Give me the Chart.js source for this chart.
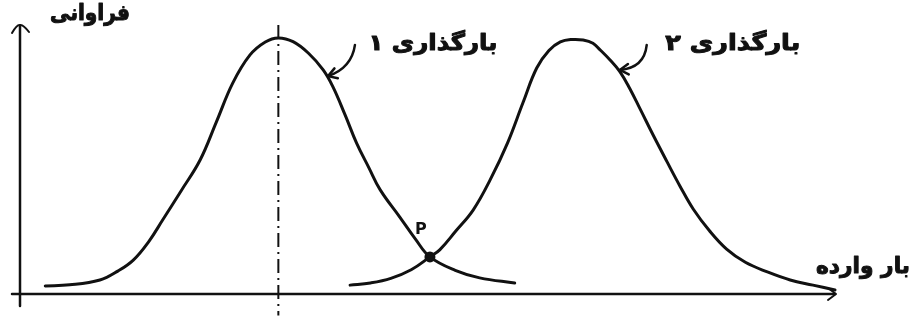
<!DOCTYPE html>
<html>
<head>
<meta charset="utf-8">
<script src="https://cdn.jsdelivr.net/npm/chart.js@4.4.1/dist/chart.umd.min.js"></script>
<style>
  html, body { margin: 0; padding: 0; background: #fff; }
  canvas { display: block; }
</style>
</head>
<body>
<canvas id="loadChart" width="911" height="320"></canvas>
<script>
// curve 1 (بارگذاری ۱)
const load1 = [3.1, 6.1, 9.8, 12.0, 13.9, 15.8, 17.5, 19.8, 22.1, 24.1, 26.1, 28.2, 30.1, 31.7, 33.5, 35.4, 37.2, 38.4, 39.9, 41.3, 42.8, 44.2, 46.6, 48.5, 50.3, 53.4, 56.4, 60.7];
const freq1 = [0.030, 0.034, 0.052, 0.085, 0.126, 0.195, 0.275, 0.385, 0.498, 0.640, 0.784, 0.888, 0.937, 0.952, 0.938, 0.895, 0.833, 0.770, 0.665, 0.561, 0.470, 0.387, 0.286, 0.205, 0.138, 0.088, 0.060, 0.041];

// curve 2 (بارگذاری ۲)
const load2 = [40.5, 43.0, 45.5, 48.0, 50.3, 51.5, 53.5, 55.6, 57.7, 59.8, 61.7, 63.4, 64.9, 66.3, 67.7, 69.1, 70.3, 71.2, 72.4, 73.6, 74.8, 76.1, 77.7, 79.4, 81.0, 82.6, 84.6, 86.7, 89.0, 91.7, 94.5, 97.3, 100];
const freq2 = [0.033, 0.041, 0.058, 0.090, 0.138, 0.164, 0.235, 0.312, 0.425, 0.560, 0.710, 0.840, 0.905, 0.937, 0.946, 0.944, 0.932, 0.907, 0.870, 0.827, 0.765, 0.687, 0.590, 0.491, 0.400, 0.316, 0.235, 0.167, 0.118, 0.082, 0.052, 0.033, 0.015];

// mean of curve 1 and the crossing point of the two curves
const meanLoad1 = [31.7];
const crossLoad = [50.3];
const crossFreq = [0.138];

const labels = {
    yAxis: 'فراوانی',
    xAxis: 'بار وارده',
    curve1: 'بارگذاری ۱',
    curve2: 'بارگذاری ۲',
    cross: 'P'
};

const toPoints = (xs, ys) => xs.map((x, i) => ({ x: x, y: ys[i] }));

const curveStyle = {
    borderColor: '#111',
    borderWidth: 3,
    pointRadius: 0,
    fill: false,
    borderCapStyle: 'round',
    tension: 0.4,
    clip: false
};

// axes, arrows and texts drawn on top
const sketchPlugin = {
    id: 'sketch',
    afterDatasetsDraw(chart) {
        const ctx = chart.ctx;
        const xs = chart.scales.x;
        const ys = chart.scales.y;
        const area = chart.chartArea;
        const px = v => xs.getPixelForValue(v);
        const py = v => ys.getPixelForValue(v);

        ctx.save();
        ctx.strokeStyle = '#111';
        ctx.fillStyle = '#111';
        ctx.lineCap = 'round';
        ctx.lineJoin = 'round';

        // x axis with arrow
        ctx.lineWidth = 2.5;
        ctx.beginPath();
        ctx.moveTo(area.left - 8, area.bottom);
        ctx.lineTo(area.right, area.bottom);
        ctx.stroke();
        ctx.lineWidth = 2;
        ctx.beginPath();
        ctx.moveTo(area.right - 7, area.bottom - 6);
        ctx.lineTo(area.right + 1, area.bottom);
        ctx.lineTo(area.right - 7, area.bottom + 6);
        ctx.stroke();

        // y axis with arrow
        ctx.lineWidth = 2.5;
        ctx.beginPath();
        ctx.moveTo(area.left, area.bottom + 12);
        ctx.lineTo(area.left, area.top + 1);
        ctx.stroke();
        ctx.lineWidth = 2;
        ctx.beginPath();
        ctx.moveTo(area.left - 8, area.top + 8);
        ctx.quadraticCurveTo(area.left - 3, area.top - 1, area.left, area.top);
        ctx.quadraticCurveTo(area.left + 3, area.top - 1, area.left + 9, area.top + 7);
        ctx.stroke();

        // pointer arrows from the labels to the curves
        const pointer = (sx, sy, cx, cy, tx, ty) => {
            ctx.lineWidth = 2.5;
            ctx.beginPath();
            ctx.moveTo(px(sx), py(sy));
            ctx.quadraticCurveTo(px(cx), py(cy), px(tx), py(ty));
            ctx.stroke();
            const a = Math.atan2(py(ty) - py(cy), px(tx) - px(cx));
            const len = 10;
            ctx.beginPath();
            ctx.moveTo(px(tx) - len * Math.cos(a - 0.55), py(ty) - len * Math.sin(a - 0.55));
            ctx.lineTo(px(tx), py(ty));
            ctx.lineTo(px(tx) - len * Math.cos(a + 0.55), py(ty) - len * Math.sin(a + 0.55));
            ctx.stroke();
        };
        pointer(41.1, 0.926, 40.7, 0.84, 37.8, 0.81);
        pointer(76.9, 0.926, 76.6, 0.84, 73.6, 0.833);

        // texts, stretched to the width they take in the figure
        const fitText = (text, left, cy, width) => {
            const w = ctx.measureText(text).width;
            ctx.save();
            ctx.translate(left, cy);
            ctx.scale(width / w, 1);
            ctx.lineWidth = 1;
            ctx.strokeText(text, 0, 0);
            ctx.fillText(text, 0, 0);
            ctx.restore();
        };
        ctx.font = 'bold 22px "DejaVu Sans"';
        ctx.textBaseline = 'middle';
        ctx.textAlign = 'left';
        fitText(labels.yAxis, 50, 14, 80);
        fitText(labels.curve1, px(50.6) - 64, py(0.93), 129);
        fitText(labels.curve2, px(87.4) - 67, py(0.93), 135);
        fitText(labels.xAxis, 816, 267, 94);
        ctx.font = 'bold 16px "DejaVu Sans"';
        ctx.textAlign = 'center';
        ctx.fillText(labels.cross, px(49.2), py(0.24));
        ctx.restore();
    }
};

new Chart(document.getElementById('loadChart'), {
    type: 'line',
    data: {
        datasets: [
            { label: labels.curve1, data: toPoints(load1, freq1), ...curveStyle },
            { label: labels.curve2, data: toPoints(load2, freq2), ...curveStyle },
            {
                label: 'mean',
                data: [{ x: meanLoad1[0], y: 1.0 }, { x: meanLoad1[0], y: -0.08 }],
                borderColor: '#111',
                borderWidth: 2,
                borderDash: [14, 5, 2, 5],
                pointRadius: 0,
                clip: false
            },
            {
                label: 'cross',
                data: toPoints(crossLoad, crossFreq),
                showLine: false,
                pointRadius: 5.5,
                pointBackgroundColor: '#111',
                pointBorderWidth: 0,
                clip: false
            }
        ]
    },
    options: {
        responsive: false,
        animation: false,
        layout: { padding: { left: 20, right: 76, top: 25, bottom: 26 } },
        plugins: {
            legend: { display: false },
            tooltip: { enabled: false }
        },
        scales: {
            x: { type: 'linear', min: 0, max: 100, display: false },
            y: { min: 0, max: 1, display: false }
        }
    },
    plugins: [sketchPlugin]
});
</script>
</body>
</html>
